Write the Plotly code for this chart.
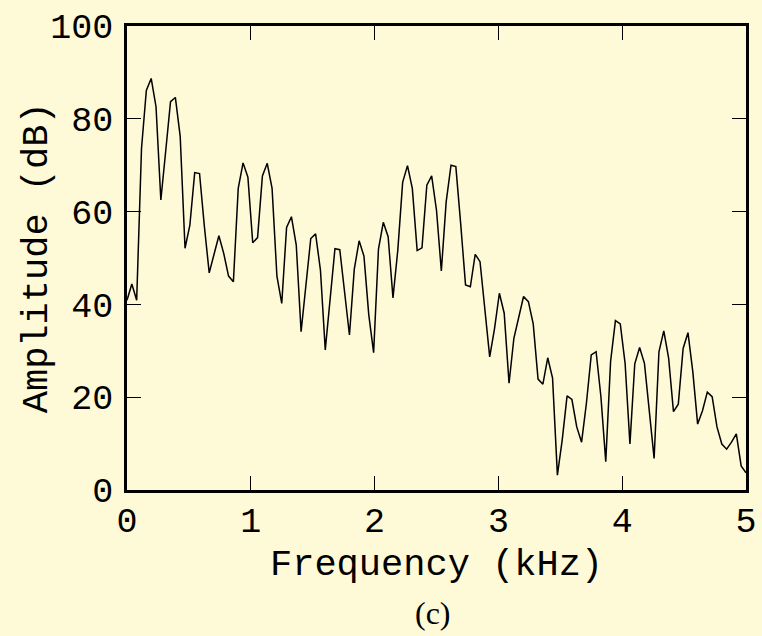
import numpy as np
import plotly.graph_objects as go

# Frequency samples (kHz): 129 points from 0 to 5 kHz
freq_khz = [i * 5.0 / 128 for i in range(129)]
amplitude_db = [
    40.9, 44.4, 40.9, 73.6, 86.1, 88.7, 82.6, 62.5, 73.0, 83.7,
    84.6, 76.2, 52.1, 57.1, 68.4, 68.2, 56.8, 46.8, 50.8, 54.8,
    51.0, 46.1, 44.9, 65.0, 70.5, 67.4, 53.3, 54.4, 67.7, 70.4,
    65.0, 46.1, 40.2, 56.6, 58.9, 52.8, 34.1, 44.2, 54.2, 55.2,
    47.4, 30.2, 41.3, 52.0, 51.8, 42.4, 33.4, 47.6, 53.7, 50.4,
    37.7, 29.6, 51.9, 57.7, 54.6, 41.4, 51.7, 66.3, 69.9, 65.0,
    51.6, 52.2, 65.7, 67.7, 60.3, 47.2, 62.1, 70.0, 69.7, 57.4,
    44.2, 43.8, 50.8, 49.2, 39.6, 28.7, 34.8, 42.4, 38.1, 23.0,
    32.7, 37.1, 41.7, 40.6, 35.8, 23.9, 22.8, 28.5, 24.1, 3.2,
    10.8, 20.3, 19.5, 13.6, 10.3, 18.7, 29.1, 29.8, 20.1, 6.1,
    27.7, 36.5, 35.8, 27.3, 9.9, 27.2, 30.7, 27.3, 16.7, 6.8,
    29.8, 34.3, 28.4, 16.9, 18.5, 30.5, 33.9, 25.5, 14.2, 17.1,
    21.1, 20.1, 13.6, 9.9, 8.8, 10.3, 12.1, 5.2, 3.7,
]
x_ticks = [0, 1, 2, 3, 4, 5]
y_ticks = [0, 20, 40, 60, 80, 100]
x_title = "Frequency (kHz)"
y_title = "Amplitude (dB)"
caption = "(c)"

BG = "#FEF9D7"
MONO = "Liberation Mono, Courier New, monospace"

fig = go.Figure()
fig.add_trace(go.Scatter(
    x=freq_khz, y=amplitude_db, mode="lines",
    line=dict(color="black", width=1.5), showlegend=False,
    hoverinfo="skip",
))

axis_common = dict(
    showline=True, linecolor="black", linewidth=2.5, mirror="allticks",
    ticks="inside", ticklen=14, tickwidth=1.2, tickcolor="black",
    showgrid=False, zeroline=False, automargin=False,
    tickfont=dict(family=MONO, size=35, color="black"),
)

fig.update_layout(
    width=762, height=636,
    paper_bgcolor=BG, plot_bgcolor=BG,
    margin=dict(l=127, r=16, t=26, b=146, autoexpand=False),
    xaxis=dict(range=[0, 5], tickvals=x_ticks, ticktext=[str(v) for v in x_ticks],
               ticklabelstandoff=-3, **axis_common),
    yaxis=dict(range=[0, 100], tickvals=y_ticks, ticktext=[str(v) for v in y_ticks],
               ticklabelstandoff=4, **axis_common),
    annotations=[
        dict(text=x_title, xref="paper", yref="paper", x=0.5, y=-0.162,
             xanchor="center", yanchor="middle", showarrow=False,
             font=dict(family=MONO, size=37, color="black")),
        dict(text=y_title, xref="paper", yref="paper", x=-0.145, y=0.5,
             xanchor="center", yanchor="middle", textangle=-90, showarrow=False,
             font=dict(family=MONO, size=37, color="black")),
        dict(text=caption, xref="paper", yref="paper", x=0.495, y=-0.265,
             xanchor="center", yanchor="middle", showarrow=False,
             font=dict(family="Liberation Serif, Times New Roman, serif", size=32, color="black")),
    ],
)

fig.write_html(
    "out.html",
    config={"displayModeBar": False},
    post_script="document.body.style.margin='0';document.body.style.padding='0';"
                "document.body.style.overflow='hidden';"
                "document.documentElement.style.overflow='hidden';"
                "document.body.style.background='" + BG + "';",
)
